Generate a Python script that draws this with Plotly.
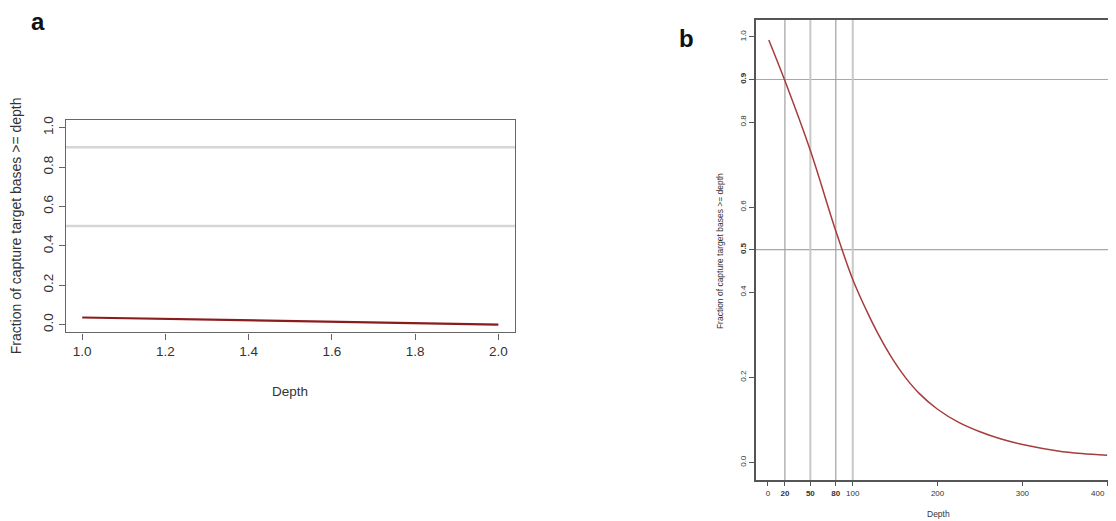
import plotly.graph_objects as go

# The page body has an 8px margin, so the figure is sized/positioned to compensate.
OFF = 8
W, H = 1100, 513

# ---- Panel a data ----
a_depth = [1.0, 1.2, 1.4, 1.6, 1.8, 2.0]
a_frac = [0.036, 0.029, 0.021, 0.014, 0.007, 0.0]
a_hlines = [0.9, 0.5]
a_xticks = [1.0, 1.2, 1.4, 1.6, 1.8, 2.0]
a_xticklabels = ["1.0", "1.2", "1.4", "1.6", "1.8", "2.0"]
a_yticks = [0.0, 0.2, 0.4, 0.6, 0.8, 1.0]
a_yticklabels = ["0.0", "0.2", "0.4", "0.6", "0.8", "1.0"]

# ---- Panel b data ----
b_depth = [1, 20, 50, 80, 100, 116, 131, 147, 162, 178, 200, 225, 250, 275, 303, 342, 370, 400]
b_frac = [0.993, 0.897, 0.733, 0.544, 0.430, 0.358, 0.298, 0.243, 0.200, 0.163, 0.125, 0.094,
          0.072, 0.055, 0.041, 0.027, 0.021, 0.017]
b_hlines = [0.9, 0.5]
b_vlines_dark = [20, 80]
b_vlines_light = [50, 100]
b_xticks = [0, 20, 50, 80, 100, 200, 300, 400]
b_xticklabels = ["0", "<b>20</b>", "<b>50</b>", "<b>80</b>", "100", "200", "300", "400"]
b_yticks = [0.0, 0.2, 0.4, 0.5, 0.6, 0.8, 0.9, 1.0]
b_yticklabels = ["0.0", "0.2", "0.4", "<b>0.5</b>", "0.6", "0.8", "<b>0.9</b>", "1.0"]

FONT = "Liberation Sans, Arial, Helvetica, sans-serif"

fig = go.Figure()

fig.add_trace(go.Scatter(x=a_depth, y=a_frac, mode="lines",
                         line=dict(color="#8b1c1c", width=2.2),
                         xaxis="x", yaxis="y", showlegend=False))
fig.add_trace(go.Scatter(x=b_depth, y=b_frac, mode="lines", line_shape="spline",
                         line=dict(color="#a63c3c", width=1.5, smoothing=1.0),
                         xaxis="x2", yaxis="y2", showlegend=False))

shapes = []
for v in a_hlines:
    shapes.append(dict(type="line", xref="x domain", yref="y", x0=0, x1=1, y0=v, y1=v,
                       line=dict(color="#d6d6d6", width=2.5), layer="below"))
for v in b_hlines:
    shapes.append(dict(type="line", xref="x2 domain", yref="y2", x0=0, x1=1, y0=v, y1=v,
                       line=dict(color="#a8a8a8", width=1.2), layer="below"))
for v in b_vlines_dark:
    shapes.append(dict(type="line", xref="x2", yref="y2 domain", x0=v, x1=v, y0=0, y1=1,
                       line=dict(color="#a0a0a0", width=1.2), layer="below"))
for v in b_vlines_light:
    shapes.append(dict(type="line", xref="x2", yref="y2 domain", x0=v, x1=v, y0=0, y1=1,
                       line=dict(color="#c8c8c8", width=2), layer="below"))


def px(x):
    return (x - OFF) / W


def py(y):
    return 1 - (y - OFF) / H


ax_common = dict(showgrid=False, zeroline=False, ticks="outside", showline=True)

fig.update_layout(
    width=W, height=H,
    margin=dict(l=0, r=0, t=0, b=0),
    paper_bgcolor="white", plot_bgcolor="white",
    font=dict(family=FONT, color="#333333"),
    shapes=shapes,
    xaxis=dict(**ax_common, domain=[px(66), px(515)], range=[0.961, 2.04],
               tickvals=a_xticks, ticktext=a_xticklabels, mirror=True,
               linecolor="#666666", linewidth=1.3, ticklen=6, tickcolor="#666666",
               tickfont=dict(size=13.5, color="#333333"), anchor="y"),
    yaxis=dict(**ax_common, domain=[py(331), py(117)], range=[-0.04, 1.038],
               tickvals=a_yticks, ticktext=a_yticklabels, mirror=True, tickangle=-90,
               linecolor="#666666", linewidth=1.3, ticklen=6, tickcolor="#666666",
               tickfont=dict(size=13.5, color="#333333"), anchor="x"),
    xaxis2=dict(**ax_common, domain=[px(756), 1.0], range=[-14.1, 401],
                tickvals=b_xticks, ticktext=b_xticklabels, mirror=True,
                linecolor="#555555", linewidth=1.5, ticklen=4, tickcolor="#555555",
                tickfont=dict(size=8, color="#333333"), anchor="y2"),
    yaxis2=dict(**ax_common, domain=[py(480), py(16)], range=[-0.042, 1.04],
                tickvals=b_yticks, ticktext=b_yticklabels, mirror=False, tickangle=-90,
                linecolor="#555555", linewidth=1.5, ticklen=5, tickcolor="#555555",
                tickfont=dict(size=8, color="#333333"), anchor="x2"),
    annotations=[
        dict(text="<b>a</b>", x=px(38), y=py(18), xref="paper", yref="paper", showarrow=False,
             font=dict(size=24, color="#111111", family=FONT), xanchor="center", yanchor="middle"),
        dict(text="<b>b</b>", x=px(686), y=py(35), xref="paper", yref="paper", showarrow=False,
             font=dict(size=24, color="#111111", family=FONT), xanchor="center", yanchor="middle"),
        dict(text="Depth", x=px(290), y=py(390), xref="paper", yref="paper", showarrow=False,
             font=dict(size=13.5, color="#333333"), xanchor="center", yanchor="middle"),
        dict(text="Fraction of capture target bases >= depth", x=px(16), y=py(224),
             xref="paper", yref="paper", showarrow=False, textangle=-90,
             font=dict(size=14, color="#333333"), xanchor="center", yanchor="middle"),
        dict(text="Depth", x=px(938), y=py(514), xref="paper", yref="paper", showarrow=False,
             font=dict(size=8.5, color="#333333"), xanchor="center", yanchor="middle"),
        dict(text="Fraction of capture target bases >= depth", x=px(720), y=py(249),
             xref="paper", yref="paper", showarrow=False, textangle=-90,
             font=dict(size=8.5, color="#333333"), xanchor="center", yanchor="middle"),
        # last x tick label of panel b sits at the page edge; right-aligned to stay visible
        dict(text=b_xticklabels[-1], x=b_xticks[-1], y=py(493), xref="x2", yref="paper",
             showarrow=False, font=dict(size=8, color="#333333"),
             xanchor="right", yanchor="middle"),
    ],
)

fig.write_html("out.html")
